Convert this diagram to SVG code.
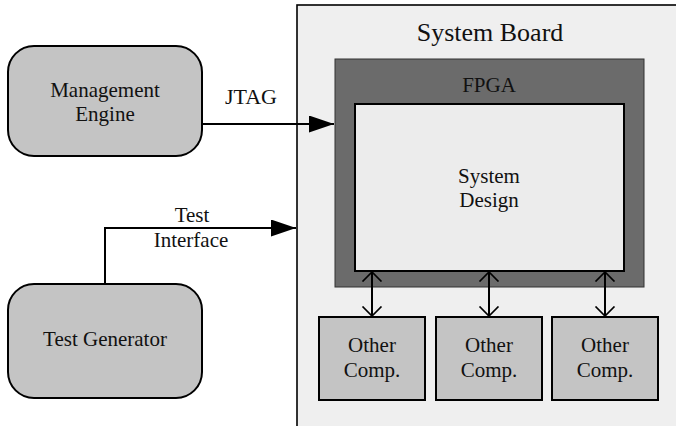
<svg xmlns="http://www.w3.org/2000/svg" width="676" height="426" viewBox="0 0 676 426">
<defs>
<style>
text{font-family:"Liberation Serif","Times New Roman",serif;fill:#111;text-anchor:middle;font-size:21px}
.rnd{fill:#c4c4c4;stroke:#000;stroke-width:2}
.comp{fill:#c4c4c4;stroke:#000;stroke-width:2}
.wire{fill:none;stroke:#000;stroke-width:2}
</style>
<marker id="solid" viewBox="0 0 10 10" refX="10" refY="5" markerWidth="25" markerHeight="17" markerUnits="userSpaceOnUse" orient="auto" preserveAspectRatio="none">
<path d="M0,0 L10,5 L0,10 Z" fill="#000"/>
</marker>
<marker id="open" viewBox="0 0 11 22" refX="10" refY="11" markerWidth="11" markerHeight="22" markerUnits="userSpaceOnUse" orient="auto-start-reverse">
<path d="M0.5,1.5 L10,11 L0.5,20.5" fill="none" stroke="#000" stroke-width="1.7"/>
</marker>
</defs>
<rect width="676" height="426" fill="#fff"/>
<g id="system-board">
<rect x="297" y="5" width="400" height="440" fill="#efefef" stroke="#000" stroke-width="1.6"/>
<text x="490" y="41" style="font-size:26px">System Board</text>
</g>
<g id="fpga">
<rect x="335" y="59" width="309" height="228" fill="#6b6b6b" stroke="#333" stroke-width="1"/>
<text x="489" y="92">FPGA</text>
</g>
<g id="system-design">
<rect x="355" y="104" width="269" height="167" fill="#ececec" stroke="#000" stroke-width="2"/>
<text x="489" y="183">System</text>
<text x="489" y="207">Design</text>
</g>
<g id="management-engine">
<rect class="rnd" x="8" y="46" width="194" height="110" rx="26"/>
<text x="105" y="97">Management</text>
<text x="105" y="121">Engine</text>
</g>
<g id="test-generator">
<rect class="rnd" x="8" y="284" width="194" height="114" rx="26"/>
<text x="105" y="346">Test Generator</text>
</g>
<g id="other-comp-1">
<rect class="comp" x="319" y="317" width="106" height="83"/>
<text x="372" y="352">Other</text>
<text x="372" y="377">Comp.</text>
</g>
<g id="other-comp-2">
<rect class="comp" x="436" y="317" width="106" height="83"/>
<text x="489" y="352">Other</text>
<text x="489" y="377">Comp.</text>
</g>
<g id="other-comp-3">
<rect class="comp" x="552" y="317" width="106" height="83"/>
<text x="605" y="352">Other</text>
<text x="605" y="377">Comp.</text>
</g>
<g id="connectors">
<path class="wire" d="M202,124 H334" marker-end="url(#solid)"/>
<text x="251" y="104" style="font-size:22px">JTAG</text>
<path class="wire" d="M105,284 V228 H296" marker-end="url(#solid)"/>
<text x="192" y="222">Test</text>
<text x="191" y="247">Interface</text>
<path class="wire" d="M372,272 V316" marker-start="url(#open)" marker-end="url(#open)"/>
<path class="wire" d="M489,272 V316" marker-start="url(#open)" marker-end="url(#open)"/>
<path class="wire" d="M605,272 V316" marker-start="url(#open)" marker-end="url(#open)"/>
</g>
</svg>
